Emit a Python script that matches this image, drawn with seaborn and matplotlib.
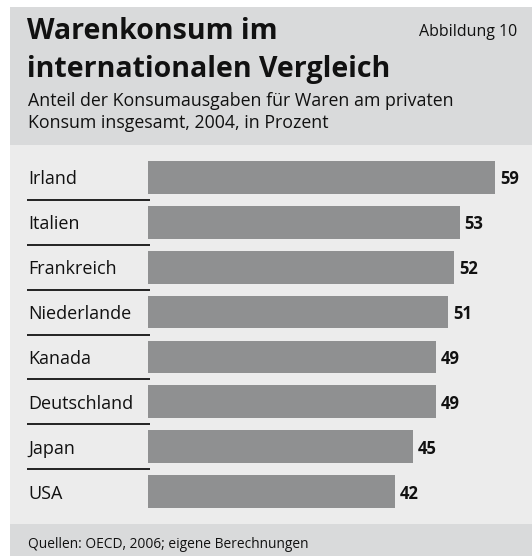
import pandas as pd
import seaborn as sns
from matplotlib import pyplot as plt
from matplotlib import transforms
from matplotlib.patches import Rectangle

# data
countries = ["Irland", "Italien", "Frankreich", "Niederlande", "Kanada", "Deutschland", "Japan", "USA"]
shares = [59, 53, 52, 51, 49, 49, 45, 42]

title = ["Warenkonsum im", "internationalen Vergleich"]
subtitle = ["Anteil der Konsumausgaben für Waren am privaten",
            "Konsum insgesamt, 2004, in Prozent"]
fig_label = "Abbildung 10"
source = "Quellen: OECD, 2006; eigene Berechnungen"

df = pd.DataFrame({"country": countries, "share": shares})

W, H = 532, 556
HEADER = "#d9dadb"
PANEL = "#ececec"
BAR = "#8f9091"
INK = "#111111"

sns.set_theme(style="white")
plt.rcParams["font.family"] = ["Open Sans", "DejaVu Sans"]


def fx(px):
    return px / W


def fy(py):
    return 1 - py / H


fig = plt.figure(figsize=(W / 100, H / 100), dpi=100)
fig.patch.set_facecolor("white")

# header and footer boxes
fig.patches.append(Rectangle((fx(10), fy(145)), fx(W - 10), 138 / H, transform=fig.transFigure,
                             facecolor=HEADER, edgecolor="none", zorder=0))
fig.patches.append(Rectangle((fx(10), 0), fx(W - 10), 32 / H, transform=fig.transFigure,
                             facecolor=HEADER, edgecolor="none", zorder=0))

# bar panel
ax = fig.add_axes([fx(10), fy(524), fx(W - 10), 379 / H])
sns.barplot(data=df, y="country", x="share", orient="h", color=BAR, width=0.73,
            saturation=1, edgecolor="none", linewidth=0, ax=ax)
ax.set_facecolor(PANEL)

scale = 5.88  # px per percent
x0 = 148
ax.set_xlim(-(x0 - 10) / scale, (W - x0) / scale)
step = 44.86
ax.set_ylim((524 - 177.5) / step, (145 - 177.5) / step)
for s in ax.spines.values():
    s.set_visible(False)
ax.set_xticks([])
ax.set_yticks([])
ax.set_xlabel("")
ax.set_ylabel("")

# country labels and separators
blend = transforms.blended_transform_factory(fig.transFigure, ax.transData)
for i, name in enumerate(countries):
    ax.text(fx(28), i, name, transform=blend, ha="left", va="center_baseline",
            fontsize=13, color=INK)
for i in range(len(countries) - 1):
    ax.plot([fx(27), fx(150)], [i + 0.5, i + 0.5], transform=blend, color="#222222",
            lw=1.4, clip_on=False, solid_capstyle="butt")

# value labels
for i, v in enumerate(shares):
    ax.annotate(str(v), (v, i), xytext=(5, 0), textcoords="offset pixels", ha="left",
                va="center_baseline", fontsize=12, fontweight="bold", color=INK)

# titles
fig.text(fx(27), fy(39), title[0], fontsize=20.5, fontweight="bold", va="baseline",
         ha="left", color=INK)
fig.text(fx(27), fy(77), title[1], fontsize=20.5, fontweight="bold",
         va="baseline", ha="left", color=INK)
fig.text(fx(28), fy(106), subtitle[0], fontsize=12.8, va="baseline", ha="left", color=INK)
fig.text(fx(28), fy(128), subtitle[1], fontsize=12.8, va="baseline", ha="left", color=INK)
fig.text(fx(517), fy(36), fig_label, fontsize=11.5, va="baseline", ha="right", color=INK)
fig.text(fx(28), fy(548), source, fontsize=9.9, va="baseline", ha="left", color=INK)

fig.savefig("out.png", dpi=100, facecolor=fig.get_facecolor())
